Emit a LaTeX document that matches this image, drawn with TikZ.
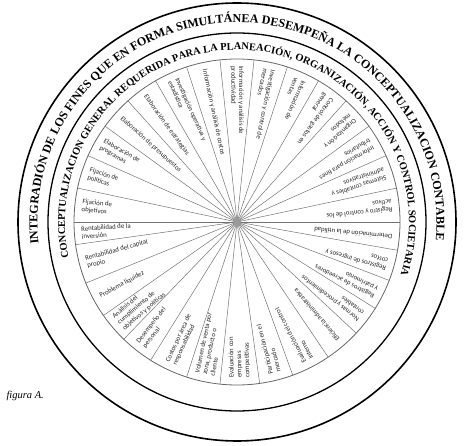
\documentclass[tikz,border=0pt]{standalone}
\usepackage{fontspec}
\setmainfont{Liberation Serif}
\newfontfamily\lblfont{Carlito}
\usetikzlibrary{decorations.text}
\begin{document}
\begin{tikzpicture}[
  x=1pt, y=1pt,
  ring/.style={draw, line width=1.6pt},
  spoke/.style={draw=black!55, line width=0.5pt},
  lbl/.style={font=\lblfont\fontsize{6.8}{7.8}\selectfont, text=black!85,
    align=left, inner sep=0pt, anchor=west},
  figcap/.style={font=\itshape\fontsize{10.5}{12}\selectfont, anchor=base west}
]
\useasboundingbox (-237,-224) rectangle (228,222);
\coordinate (c) at (0,0);
\draw[ring] (c) circle (219);
\draw[ring, line width=1.3pt] (c) circle (189);
\draw[black!60, line width=0.8pt] (c) circle (163);

\foreach \a in {0,12,...,180,188,202,215,226,238,252,264,278,290,304,317,328,339,350}
  \draw[spoke] (c) -- (\a:163);
\fill[black!40] (c) circle (4);

\path[decorate, decoration={text along path, text align=center,
  text={|\bfseries\fontsize{12.1}{13}\selectfont|INTEGRADIÓN DE LOS FINES QUE EN FORMA SIMULTÁNEA DESEMPEÑA LA CONCEPTUALIZACION CONTABLE}}]
  (191:199.5) arc[start angle=191, end angle=-10, radius=199.5];
\path[decorate, decoration={text along path, text align=center,
  text={|\bfseries\fontsize{10.4}{12}\selectfont|CONCEPTUALIZACION GENERAL REQUERIDA PARA LA PLANEACIÓN, ORGANIZACIÓN, ACCIÓN Y CONTROL SOCIETARIA}}]
  (197.5:172) arc[start angle=197.5, end angle=-23.5, radius=172];

\foreach \a/\t [count=\i] in {
  174/{Fijación de\\objetivos},
  162/{Fijación de\\políticas},
  150/{Elaboración de\\programas},
  138/{Elaboración de presupuestos},
  126/{Elaboración de estrategias},
  114/{Investigación operativa y\\estadística},
  102/{Información y análisis de costos},
  90/{Información y análisis de\\productividad},
  78/{Investigación y control de\\mercados},
  66/{Información de\\ventas},
  54/{Control de gastos en\\general},
  42/{Organización y\\métodos},
  30/{Información para fines\\tributarios},
  18/{Sistemas contables y\\administrativos},
  6/{Registro y control de los\\activos},
  354.5/{Determinación de la utilidad},
  344/{Registros de ingresos y\\costos},
  333/{Registros de acreedores\\y patrimonio},
  322.5/{Normas y procedimientos\\contables},
  310.5/{Eficiencia administrativa},
  297/{Evaluación del control\\interno},
  284/{Participación en el\\mercado},
  271/{Evaluación con\\empresas\\competitivas},
  258/{Volumen de venta por\\zona, producto o\\cliente},
  245/{Costos por área de\\responsabilidad},
  232/{Desempeño del\\personal},
  220.5/{Análisis del\\cumplimiento de\\objetivos y políticas},
  208.5/{Problema liquidez},
  195/{Rentabilidad del capital\\propio},
  184/{Rentabilidad de la\\inversión}}
  \node[lbl, rotate=\a+180] (l\i) at (\a:156) {\t};

\node[figcap] (fig) at (-234,-176) {figura A.};
\end{tikzpicture}
\end{document}
